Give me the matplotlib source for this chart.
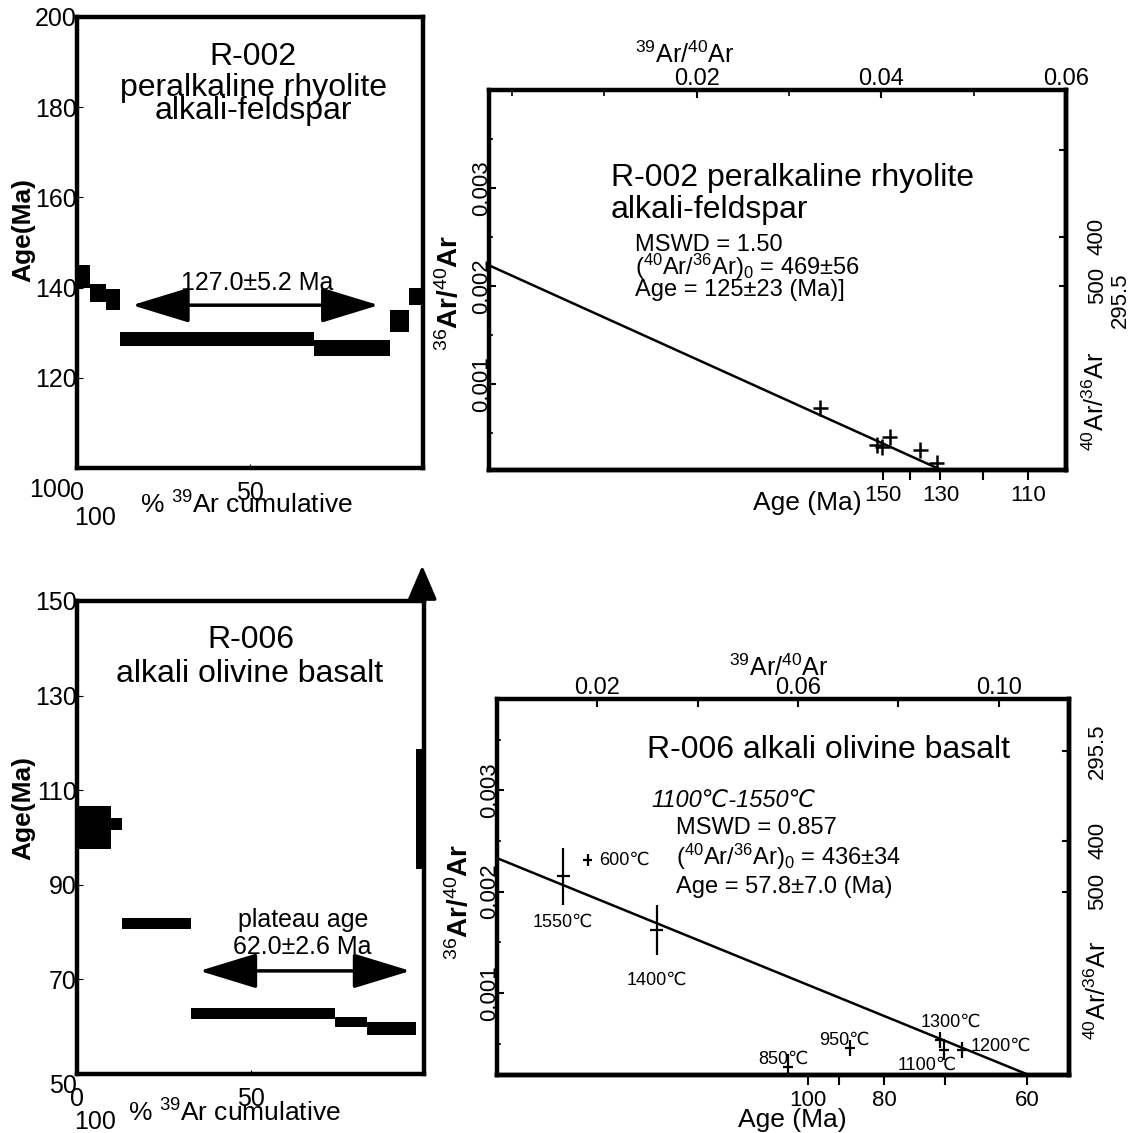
import matplotlib.pyplot as plt
import numpy as np

plt.rcParams['font.family'] = ['Liberation Sans', 'DejaVu Sans', 'Noto Sans CJK SC']
plt.rcParams['mathtext.fontset'] = 'custom'
plt.rcParams['mathtext.rm'] = 'Liberation Sans'
plt.rcParams['mathtext.it'] = 'Liberation Sans:italic'
plt.rcParams['mathtext.bf'] = 'Liberation Sans:bold'

# R-002 age spectrum (cumulative % 39Ar step edges, age in Ma, 1 sigma)
r002_edges = [0, 3.9, 8.5, 12.5, 68.4, 90.6, 95.9, 100]
r002_age = [142.5, 138.9, 137.4, 128.6, 126.6, 132.6, 138.1]
r002_err = [2.6, 2.0, 2.3, 1.6, 1.8, 2.5, 1.9]

# R-006 age spectrum
r006_edges = [0, 9.7, 13.0, 32.9, 74.4, 83.6, 97.6, 100]
r006_age = [102.1, 102.8, 81.8, 62.7, 61.0, 59.7, 106.0]
r006_err = [4.6, 1.3, 1.15, 1.15, 1.05, 1.35, 12.7]

# R-002 inverse isochron (39Ar/40Ar, 36Ar/40Ar)
r002_x = [0.0334, 0.0395, 0.0401, 0.0409, 0.0442, 0.0460]
r002_y = [0.000753, 0.000375, 0.000355, 0.000457, 0.000324, 0.00019]
r002_fit_x = [-0.0025, 0.0465]
r002_fit_y = [0.00221, 0.00012]
r002_age_ticks = [150, 140, 130, 120, 110]
r002_age_pos = [0.0402, 0.0431, 0.0464, 0.0510, 0.0559]
r002_age_labels = ['150', '', '130', '', '110']

# R-006 inverse isochron
r006_temps = ['1550℃', '600℃', '1400℃', '850℃', '950℃', '1300℃', '1100℃', '1200℃']
r006_x = [0.0132, 0.0181, 0.0318, 0.0580, 0.0704, 0.0882, 0.0890, 0.0926]
r006_y = [0.00215, 0.00231, 0.00162, 0.000267, 0.000455, 0.000535, 0.000436, 0.000436]
r006_xerr = [0.0013, 0.0009, 0.0013, 0.0010, 0.0010, 0.0010, 0.0010, 0.0010]
r006_yerr = [0.00028, 0.00006, 0.00025, 0.00013, 0.00008, 0.00008, 0.00010, 0.00008]
r006_fit_x = [0.0, 0.106]
r006_fit_y = [0.00233, 0.00019]
r006_age_ticks = [100, 90, 80, 70, 60]
r006_age_pos = [0.0620, 0.0682, 0.0772, 0.0892, 0.1056]
r006_age_labels = ['100', '', '80', '', '60']

ratio_ticks = [295.5, 400, 500]

# label offsets (points) for the temperature steps
temp_offsets = [(0, -33), (8, 0), (0, -36), (-3, 6), (-4, 6), (8, 13), (-12, -11), (28, 3)]
temp_ha = ['center', 'left', 'center', 'center', 'center', 'center', 'center', 'center']

SPINE_W = 3.2


def style_spines(ax):
    for sp in ax.spines.values():
        sp.set_linewidth(SPINE_W)


def draw_spectrum(ax, edges, ages, errs):
    edges = np.asarray(edges, dtype=float)
    ages = np.asarray(ages)
    errs = np.asarray(errs)
    ax.bar(edges[:-1], 2 * errs, width=np.diff(edges), bottom=ages - errs,
           align='edge', color='black', linewidth=0)
    ax.set_xlim(0, 100)
    ax.set_xticks([0, 50])
    ax.tick_params(axis='x', direction='in', length=3, pad=9, labelsize=18)
    ax.tick_params(axis='y', direction='in', length=4, pad=0, labelsize=18)
    style_spines(ax)


def double_arrow(ax, x0, x1, y):
    ax.annotate('', xy=(x1, y), xytext=(x0, y),
                arrowprops=dict(arrowstyle='<|-|>,head_length=1.8,head_width=0.55',
                                lw=2.5, color='black', mutation_scale=20,
                                shrinkA=0, shrinkB=0))


def ratio_axis(ax, age_pos, age_labels, right_labels, right_pad):
    ax.xaxis.tick_top()
    ax.tick_params(axis='x', which='both', direction='in', labelsize=17, pad=0)
    ax.tick_params(axis='x', which='major', length=6, width=1.5)
    ax.tick_params(axis='x', which='minor', length=4, width=1.2)
    ax.tick_params(axis='y', which='both', direction='in', labelsize=16,
                   labelrotation=90, pad=-2)
    ax.tick_params(axis='y', which='major', length=5, width=1.5)
    ax.tick_params(axis='y', which='minor', length=3, width=1.2)
    ax.set_yticks([0.001, 0.002, 0.003], labels=['0.001', '0.002', '0.003'])
    ax.set_yticks([0.0005, 0.0015, 0.0025, 0.0035], minor=True)
    for lbl in ax.get_yticklabels():
        lbl.set_va('center')

    sec_x = ax.secondary_xaxis('bottom')
    sec_x.set_xticks(age_pos, labels=age_labels)
    sec_x.tick_params(direction='out', length=7, width=1.5, pad=4, labelsize=16)
    sec_x.spines['bottom'].set_linewidth(SPINE_W)

    sec_y = ax.secondary_yaxis('right')
    sec_y.set_yticks([1.0 / r for r in ratio_ticks], labels=right_labels)
    sec_y.tick_params(direction='in', length=5, width=1.5, pad=right_pad,
                      labelsize=16, labelrotation=90)
    for lbl in sec_y.get_yticklabels():
        lbl.set_va('center')
    sec_y.spines['right'].set_linewidth(SPINE_W)
    style_spines(ax)


fig = plt.figure(figsize=(11.34, 11.33), dpi=100)
W, H = 1134.0, 1133.0
ax_tl = fig.add_axes([77 / W, 1 - 468 / H, 346 / W, 451 / H])
ax_tr = fig.add_axes([489 / W, 1 - 470 / H, 577 / W, 380 / H])
ax_bl = fig.add_axes([77 / W, 1 - 1074 / H, 347 / W, 473 / H])
ax_br = fig.add_axes([497 / W, 1 - 1075 / H, 572 / W, 376 / H])

# ---- top left: R-002 spectrum
draw_spectrum(ax_tl, r002_edges, r002_age, r002_err)
ax_tl.set_ylim(100, 200)
ax_tl.set_yticks([100, 120, 140, 160, 180, 200], labels=['', '120', '140', '160', '180', '200'])
# the bottom age label sits below the frame, level with the x "0"
ax_tl.text(-0.016, -0.049, '100', transform=ax_tl.transAxes,
           ha='right', va='center', fontsize=18)
ax_tl.text(50.9, 0.911, 'R-002', transform=ax_tl.get_xaxis_transform(),
           ha='center', va='center', fontsize=23)
ax_tl.text(50.9, 0.843, 'peralkaline rhyolite', transform=ax_tl.get_xaxis_transform(),
           ha='center', va='center', fontsize=23)
ax_tl.text(50.9, 0.792, 'alkali-feldspar', transform=ax_tl.get_xaxis_transform(),
           ha='center', va='center', fontsize=23)
double_arrow(ax_tl, 15.9, 87.2, 136.1)
ax_tl.text(52, 141.1, '127.0±5.2 Ma', ha='center', va='center', fontsize=18)
ax_tl.text(-0.156, 0.528, 'Age(Ma)', transform=ax_tl.transAxes, rotation=90,
           ha='center', va='center', fontsize=19, fontweight='bold')
ax_tl.text(0.491, -0.082, r'% $^{39}$Ar cumulative', transform=ax_tl.transAxes,
           ha='center', va='center', fontsize=19)
ax_tl.text(0.052, -0.111, '100', transform=ax_tl.transAxes,
           ha='center', va='center', fontsize=18)

# ---- bottom left: R-006 spectrum
draw_spectrum(ax_bl, r006_edges, r006_age, r006_err)
ax_bl.set_ylim(50, 150)
ax_bl.set_yticks([50, 70, 90, 110, 130, 150])
ax_bl.get_yticklabels()[0].set_va('top')
ax_bl.text(50.2, 141.8, 'R-006', ha='center', va='center', fontsize=23)
ax_bl.text(49.8, 134.6, 'alkali olivine basalt', ha='center', va='center', fontsize=23)
double_arrow(ax_bl, 35.3, 96.1, 71.8)
ax_bl.text(65.2, 82.6, 'plateau age', ha='center', va='center', fontsize=18)
ax_bl.text(64.9, 76.8, '62.0±2.6 Ma', ha='center', va='center', fontsize=18)
ax_bl.annotate('', xy=(0.995, 1.075), xytext=(0.995, 1.0), xycoords='axes fraction',
               annotation_clip=False,
               arrowprops=dict(arrowstyle='-|>,head_length=1.05,head_width=0.45',
                               lw=2.5, color='black', mutation_scale=20,
                               shrinkA=0, shrinkB=0))
ax_bl.text(-0.156, 0.562, 'Age(Ma)', transform=ax_bl.transAxes, rotation=90,
           ha='center', va='center', fontsize=19, fontweight='bold')
ax_bl.text(0.455, -0.082, r'% $^{39}$Ar cumulative', transform=ax_bl.transAxes,
           ha='center', va='center', fontsize=19)
ax_bl.text(0.052, -0.101, '100', transform=ax_bl.transAxes,
           ha='center', va='center', fontsize=18)

# ---- top right: R-002 isochron
ax_tr.plot(r002_fit_x, r002_fit_y, color='black', lw=1.8)
ax_tr.errorbar(r002_x, r002_y, xerr=0.0008, yerr=0.00008, fmt='none',
               ecolor='black', elinewidth=1.8, capsize=0)
ax_tr.set_xlim(-0.0025, 0.06)
ax_tr.set_ylim(0.00012, 0.004)
ax_tr.set_xticks([0.02, 0.04, 0.06], labels=['0.02', '0.04', '0.06'])
ax_tr.set_xticks([0.0, 0.01, 0.03, 0.05], minor=True)
ratio_axis(ax_tr, r002_age_pos, r002_age_labels, ['', '400', '500'], 15)
ax_tr.text(1.095, 0.00185, '295.5', transform=ax_tr.get_yaxis_transform(),
           rotation=90, ha='center', va='center', fontsize=16)
ax_tr.text(0.211, 0.768, 'R-002 peralkaline rhyolite', transform=ax_tr.transAxes,
           ha='left', va='center', fontsize=23)
ax_tr.text(0.211, 0.684, 'alkali-feldspar', transform=ax_tr.transAxes,
           ha='left', va='center', fontsize=23)
ax_tr.text(0.253, 0.592, 'MSWD = 1.50', transform=ax_tr.transAxes,
           ha='left', va='center', fontsize=17)
ax_tr.text(0.253, 0.534, r'($^{40}$Ar/$^{36}$Ar)$_0$ = 469±56', transform=ax_tr.transAxes,
           ha='left', va='center', fontsize=17)
ax_tr.text(0.253, 0.474, 'Age = 125±23 (Ma)]', transform=ax_tr.transAxes,
           ha='left', va='center', fontsize=17)
ax_tr.text(0.34, 1.092, r'$^{39}$Ar/$^{40}$Ar', transform=ax_tr.transAxes,
           ha='center', va='center', fontsize=18)
ax_tr.text(-0.068, 0.466, r'$^{36}$Ar/$^{40}$Ar', transform=ax_tr.transAxes, rotation=90,
           ha='center', va='center', fontsize=20, fontweight='bold')
ax_tr.text(1.052, 0.18, r'$^{40}$Ar/$^{36}$Ar', transform=ax_tr.transAxes, rotation=90,
           ha='center', va='center', fontsize=18)
ax_tr.text(0.551, -0.087, 'Age (Ma)', transform=ax_tr.transAxes,
           ha='center', va='center', fontsize=19)

# ---- bottom right: R-006 isochron
ax_br.plot(r006_fit_x, r006_fit_y, color='black', lw=1.8)
ax_br.errorbar(r006_x, r006_y, xerr=r006_xerr, yerr=r006_yerr, fmt='none',
               ecolor='black', elinewidth=1.6, capsize=0)
for t, x, y, off, ha in zip(r006_temps, r006_x, r006_y, temp_offsets, temp_ha):
    ax_br.annotate(t, (x, y), xytext=off, textcoords='offset points',
                   ha=ha, va='center', fontsize=13)
ax_br.set_xlim(0, 0.114)
ax_br.set_ylim(0.00019, 0.0039)
ax_br.set_xticks([0.02, 0.04, 0.06, 0.08, 0.10], labels=['0.02', '', '0.06', '', '0.10'])
ratio_axis(ax_br, r006_age_pos, r006_age_labels, ['295.5', '400', '500'], 13)
ax_br.text(0.262, 0.864, 'R-006 alkali olivine basalt', transform=ax_br.transAxes,
           ha='left', va='center', fontsize=23)
ax_br.text(0.27, 0.731, '1100℃-1550℃', transform=ax_br.transAxes,
           ha='left', va='center', fontsize=17, style='italic')
ax_br.text(0.313, 0.657, 'MSWD = 0.857', transform=ax_br.transAxes,
           ha='left', va='center', fontsize=17)
ax_br.text(0.313, 0.58, r'($^{40}$Ar/$^{36}$Ar)$_0$ = 436±34', transform=ax_br.transAxes,
           ha='left', va='center', fontsize=17)
ax_br.text(0.313, 0.50, 'Age = 57.8±7.0 (Ma)', transform=ax_br.transAxes,
           ha='left', va='center', fontsize=17)
ax_br.text(0.493, 1.082, r'$^{39}$Ar/$^{40}$Ar', transform=ax_br.transAxes,
           ha='center', va='center', fontsize=18)
ax_br.text(-0.065, 0.46, r'$^{36}$Ar/$^{40}$Ar', transform=ax_br.transAxes, rotation=90,
           ha='center', va='center', fontsize=20, fontweight='bold')
ax_br.text(1.051, 0.226, r'$^{40}$Ar/$^{36}$Ar', transform=ax_br.transAxes, rotation=90,
           ha='center', va='center', fontsize=18)
ax_br.text(0.516, -0.12, 'Age (Ma)', transform=ax_br.transAxes,
           ha='center', va='center', fontsize=19)

fig.savefig('out.png', dpi=100)
